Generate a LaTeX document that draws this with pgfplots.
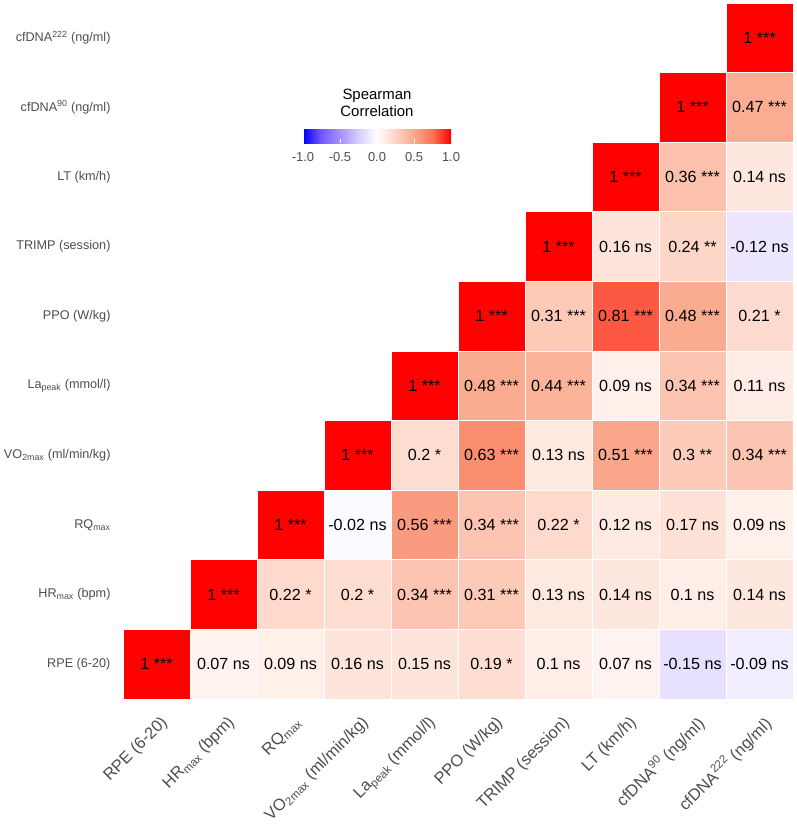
\documentclass[border=0pt]{standalone}
\usepackage{fontspec}
\setmainfont{Liberation Sans}
\usepackage{pgfplots}
\usepackage{pgfplotstable}
\pgfplotsset{compat=1.18}
\usetikzlibrary{calc}
\definecolor{labgray}{RGB}{77,77,77}

\pgfdeclareplotmark{cell}{%
  \pgfpathrectangle{\pgfpoint{-33.5bp}{-34.8bp}}{\pgfpoint{67bp}{69.6bp}}%
  \pgfusepathqfillstroke}

\pgfplotstableread[col sep=comma,row sep=\\]{
x,y,r,txt\\
0,0,1,1 ***\\
1,0,0.07,0.07 ns\\
2,0,0.09,0.09 ns\\
3,0,0.16,0.16 ns\\
4,0,0.15,0.15 ns\\
5,0,0.19,0.19 *\\
6,0,0.1,0.1 ns\\
7,0,0.07,0.07 ns\\
8,0,-0.15,-0.15 ns\\
9,0,-0.09,-0.09 ns\\
1,1,1,1 ***\\
2,1,0.22,0.22 *\\
3,1,0.2,0.2 *\\
4,1,0.34,0.34 ***\\
5,1,0.31,0.31 ***\\
6,1,0.13,0.13 ns\\
7,1,0.14,0.14 ns\\
8,1,0.1,0.1 ns\\
9,1,0.14,0.14 ns\\
2,2,1,1 ***\\
3,2,-0.02,-0.02 ns\\
4,2,0.56,0.56 ***\\
5,2,0.34,0.34 ***\\
6,2,0.22,0.22 *\\
7,2,0.12,0.12 ns\\
8,2,0.17,0.17 ns\\
9,2,0.09,0.09 ns\\
3,3,1,1 ***\\
4,3,0.2,0.2 *\\
5,3,0.63,0.63 ***\\
6,3,0.13,0.13 ns\\
7,3,0.51,0.51 ***\\
8,3,0.3,0.3 **\\
9,3,0.34,0.34 ***\\
4,4,1,1 ***\\
5,4,0.48,0.48 ***\\
6,4,0.44,0.44 ***\\
7,4,0.09,0.09 ns\\
8,4,0.34,0.34 ***\\
9,4,0.11,0.11 ns\\
5,5,1,1 ***\\
6,5,0.31,0.31 ***\\
7,5,0.81,0.81 ***\\
8,5,0.48,0.48 ***\\
9,5,0.21,0.21 *\\
6,6,1,1 ***\\
7,6,0.16,0.16 ns\\
8,6,0.24,0.24 **\\
9,6,-0.12,-0.12 ns\\
7,7,1,1 ***\\
8,7,0.36,0.36 ***\\
9,7,0.14,0.14 ns\\
8,8,1,1 ***\\
9,8,0.47,0.47 ***\\
9,9,1,1 ***\\
}\corrdata

\begin{document}
\begin{tikzpicture}[x=1bp,y=1bp]
\useasboundingbox (0,0) rectangle (797,831);
\begin{axis}[
  at={(123bp,132bp)}, anchor=south west,
  scale only axis, width=670bp, height=696bp,
  xmin=-0.5, xmax=9.5, ymin=-0.5, ymax=9.5,
  clip=false,
  axis line style={draw=none},
  major tick length=0pt,
  xtick={0,...,9}, ytick={0,...,9},
  xticklabels={RPE (6-20), HR\textsubscript{max} (bpm), RQ\textsubscript{max}, VO\textsubscript{2max} (ml/min/kg), La\textsubscript{peak} (mmol/l), PPO (W/kg), TRIMP (session), LT (km/h), cfDNA\textsuperscript{90} (ng/ml), cfDNA\textsuperscript{222} (ng/ml)},
  yticklabels={RPE (6-20), HR\textsubscript{max} (bpm), RQ\textsubscript{max}, VO\textsubscript{2max} (ml/min/kg), La\textsubscript{peak} (mmol/l), PPO (W/kg), TRIMP (session), LT (km/h), cfDNA\textsuperscript{90} (ng/ml), cfDNA\textsuperscript{222} (ng/ml)},
  xticklabel style={rotate=45, anchor=north east, font=\fontsize{16.5}{18}\selectfont, text=labgray, xshift=-5.6bp, yshift=-9.8bp},
  yticklabel style={anchor=east, font=\fontsize{12.7}{14}\selectfont, text=labgray, xshift=-9bp},
  colormap={corr}{rgb255=(0,0,255) rgb255=(115,90,255) rgb255=(165,145,255) rgb255=(215,205,255) rgb255=(255,255,255) rgb255=(254,212,197) rgb255=(250,168,140) rgb255=(252,115,85) rgb255=(255,0,0)},
  point meta min=-1, point meta max=1,
  colorbar horizontal,
  colorbar style={
    at={($(parent axis.south west)+(180bp,564bp)$)}, anchor=south west,
    scale only axis, width=148bp, height=20bp,
    axis line style={draw=none},
    xtick={-1,-0.5,0,0.5,1},
    xtick style={draw=white, line width=0.8bp},
    major tick length=4bp, tick align=inside,
    xticklabel style={font=\fontsize{13}{15}\selectfont, text=labgray, yshift=-5bp,
      /pgf/number format/fixed, /pgf/number format/fixed zerofill,
      /pgf/number format/precision=1, /pgf/number format/assume math mode=true},
  },
]
\addplot[scatter, only marks, mark=cell,
  scatter/use mapped color={draw=white, fill=mapped color, line width=0.6bp},
  point meta=\thisrow{r},
] table[x=x, y=y]{\corrdata};
\addplot[only marks, mark=none, draw=none,
  point meta=explicit symbolic,
  nodes near coords,
  nodes near coords align={center},
  every node near coord/.append style={font=\fontsize{16.2}{18}\selectfont, text=black, anchor=center},
] table[x=x, y=y, meta=txt]{\corrdata};
\end{axis}
\node[align=center, font=\fontsize{15}{17}\selectfont, text=black] at (377,728) {Spearman\\Correlation};
\end{tikzpicture}
\end{document}
